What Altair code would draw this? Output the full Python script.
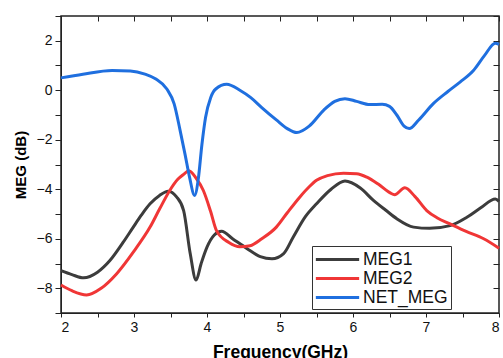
import altair as alt
import pandas as pd

net_x = [2.0, 2.3, 2.7, 2.95, 3.15, 3.3, 3.45, 3.55, 3.63, 3.7, 3.76, 3.83, 3.88, 3.93, 3.98, 4.05, 4.12, 4.27,
         4.45, 4.6, 4.75, 4.95, 5.1, 5.23, 5.4, 5.6, 5.75, 5.89, 6.05, 6.23, 6.4, 6.5, 6.6, 6.7, 6.77, 6.9,
         7.1, 7.3, 7.47, 7.65, 7.8, 7.95, 8.0]
net_y = [0.5, 0.65, 0.8, 0.78, 0.65, 0.45, 0.05, -0.55, -1.6, -2.6, -3.5, -4.25, -3.6, -2.2, -1.1, -0.3, 0.05, 0.24,
         0.0, -0.3, -0.7, -1.2, -1.55, -1.71, -1.45, -0.8, -0.45, -0.34, -0.45, -0.58, -0.57, -0.65, -1.0, -1.45,
         -1.55, -1.2, -0.54, -0.05, 0.34, 0.8, 1.4, 1.9, 1.85]

meg1_x = [2.0, 2.15, 2.31, 2.5, 2.67, 2.85, 2.99, 3.1, 3.22, 3.35, 3.47, 3.58, 3.68, 3.77, 3.85, 3.92, 4.0, 4.1,
          4.2, 4.35, 4.55, 4.73, 4.89, 5.05, 5.18, 5.35, 5.5, 5.7, 5.89, 6.1, 6.28, 6.45, 6.6, 6.83, 7.05, 7.33,
          7.56, 7.75, 7.95, 8.0]
meg1_y = [-7.29, -7.45, -7.58, -7.35, -6.88, -6.15, -5.53, -5.05, -4.59, -4.25, -4.08, -4.3, -4.86, -6.6, -7.67,
          -7.0, -6.34, -5.85, -5.7, -6.0, -6.4, -6.72, -6.81, -6.6, -5.94, -5.1, -4.59, -4.0, -3.67, -3.95, -4.45,
          -4.85, -5.19, -5.53, -5.58, -5.47, -5.13, -4.75, -4.39, -4.49]

meg2_x = [2.0, 2.15, 2.35, 2.55, 2.76, 3.0, 3.22, 3.35, 3.49, 3.6, 3.68, 3.75, 3.85, 3.95, 4.05, 4.13, 4.3, 4.45,
          4.59, 4.75, 4.95, 5.1, 5.27, 5.4, 5.5, 5.65, 5.87, 6.05, 6.19, 6.35, 6.51, 6.57, 6.71, 6.85, 7.01, 7.15,
          7.33, 7.55, 7.79, 8.0]
meg2_y = [-7.87, -8.1, -8.27, -8.0, -7.42, -6.5, -5.53, -4.8, -4.05, -3.6, -3.4, -3.25, -3.55, -4.05, -4.9, -5.67,
          -6.15, -6.32, -6.28, -6.0, -5.53, -4.95, -4.32, -3.9, -3.64, -3.45, -3.35, -3.37, -3.51, -3.8, -4.15,
          -4.22, -3.94, -4.3, -4.86, -5.15, -5.4, -5.7, -6.0, -6.38]

series = ["MEG1", "MEG2", "NET_MEG"]
colors = ["#3c3c3c", "#f03636", "#1f6fdf"]

rows = []
for name, xs, ys in [("MEG1", meg1_x, meg1_y), ("MEG2", meg2_x, meg2_y), ("NET_MEG", net_x, net_y)]:
    for i, (a, b) in enumerate(zip(xs, ys)):
        rows.append({"series": name, "f": a, "meg": b, "order": i})
df = pd.DataFrame(rows)

x_ticks = [2 + 0.5 * i for i in range(13)]
y_ticks = list(range(-9, 4))
FONT = "Liberation Sans"

xscale = alt.Scale(domain=[2, 8], nice=False, zero=False)
yscale = alt.Scale(domain=[-9, 3], nice=False, zero=False)

lines = alt.Chart(df).mark_line(strokeWidth=3, interpolate="monotone").encode(
    x=alt.X("f:Q", scale=xscale,
            axis=alt.Axis(title="Frequency(GHz)", values=x_ticks,
                          labelExpr="datum.value % 1 == 0 ? format(datum.value, 'd') : ''",
                          grid=False, tickSize=4, labelFontSize=14, labelFont=FONT,
                          labelColor="#111", titleFont=FONT, titleFontSize=17.5, titleFontWeight="bold",
                          titlePadding=9, domainColor="#222", tickColor="#222", labelPadding=3)),
    y=alt.Y("meg:Q", scale=yscale,
            axis=alt.Axis(title="MEG (dB)", values=y_ticks,
                          labelExpr="datum.value % 2 == 0 ? datum.label : ''",
                          grid=False, tickSize=6, labelFontSize=14, labelFont=FONT,
                          labelColor="#111", titleFont=FONT, titleFontSize=15, titleFontWeight="bold",
                          titlePadding=8, domainColor="#222", tickColor="#222", labelPadding=3)),
    color=alt.Color("series:N", scale=alt.Scale(domain=series, range=colors),
                    legend=alt.Legend(title=None, orient="none", legendX=251, legendY=230,
                                      symbolType="M-2.5,0H2.5", symbolSize=300, symbolStrokeWidth=3,
                                      symbolOffset=12, labelOffset=15,
                                      labelFontSize=17.5, labelFont=FONT, labelColor="#111",
                                      strokeColor="#333", fillColor="white", padding=3,
                                      rowPadding=0)),
    order="order:Q",
)

mirror = alt.Chart(df).mark_line(opacity=0).encode(
    x=alt.X("f:Q", scale=xscale,
            axis=alt.Axis(orient="top", title=None, values=x_ticks, labels=False, grid=False,
                          domain=False, tickSize=5, offset=-5, tickColor="#222")),
    y=alt.Y("meg:Q", scale=yscale,
            axis=alt.Axis(orient="right", title=None, values=y_ticks, labels=False, grid=False,
                          domain=False, tickSize=6, offset=-6, tickColor="#222")),
    detail="series:N",
    order="order:Q",
)

chart = alt.layer(lines, mirror).resolve_axis(x="independent", y="independent").properties(
    width=438, height=297,
    padding={"left": 61, "top": 16, "right": 4, "bottom": 45},
    autosize=alt.AutoSizeParams(type="none"),
).configure_view(stroke="#222", strokeWidth=1.5)

chart.save("out.html", embed_options={"renderer": "svg", "actions": False})
